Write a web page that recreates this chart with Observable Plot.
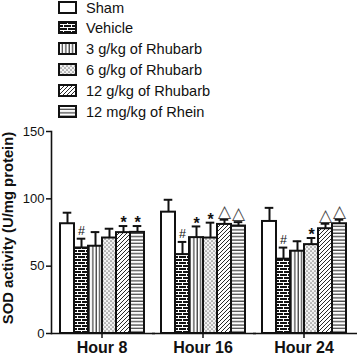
<!DOCTYPE html>
<html>
<head>
<meta charset="utf-8">
<script src="https://cdn.jsdelivr.net/npm/d3@7"></script>
<script src="https://cdn.jsdelivr.net/npm/@observablehq/plot@0.6"></script>
<style>
  html, body { margin: 0; padding: 0; background: white; }
  body { width: 358px; height: 353px; overflow: hidden; font-family: "Liberation Sans", Arial, sans-serif; }
  #legend { position: relative; height: 120px; }
  .row { position: absolute; left: 58px; height: 20px; display: flex; align-items: center; font-size: 14.6px; color: #111; }
  .row svg { margin-right: 8px; }
  #chart svg { overflow: visible; display: block; }
</style>
</head>
<body>
<svg width="0" height="0" style="position:absolute">
  <defs>
    <pattern id="p-sham" width="4" height="4" patternUnits="userSpaceOnUse">
      <rect width="4" height="4" fill="white"/>
    </pattern>
    <pattern id="p-brick" width="8" height="6" patternUnits="userSpaceOnUse">
      <rect width="8" height="6" fill="#111"/>
      <path d="M0 0.5H8M0 3.5H8M1.5 0.5V3.5M5.5 3.5V6.5" stroke="white" stroke-width="1"/>
    </pattern>
    <pattern id="p-vert" width="3.4" height="4" patternUnits="userSpaceOnUse">
      <rect width="3.4" height="4" fill="white"/>
      <path d="M1 0V4" stroke="#111" stroke-width="1"/>
    </pattern>
    <pattern id="p-dots" width="4" height="4" patternUnits="userSpaceOnUse">
      <rect width="4" height="4" fill="#d8d8d8"/>
      <circle cx="1" cy="1" r="0.9" fill="white"/>
      <circle cx="3" cy="3" r="0.9" fill="white"/>
      <circle cx="3" cy="1" r="0.5" fill="#333"/>
      <circle cx="1" cy="3" r="0.5" fill="#333"/>
    </pattern>
    <pattern id="p-diag" width="4" height="4" patternUnits="userSpaceOnUse">
      <rect width="4" height="4" fill="white"/>
      <path d="M-1 1L1 -1M0 4L4 0M3 5L5 3" stroke="#111" stroke-width="0.9"/>
    </pattern>
    <pattern id="p-horz" width="4" height="3.4" patternUnits="userSpaceOnUse">
      <rect width="4" height="3.4" fill="white"/>
      <path d="M0 1H4" stroke="#111" stroke-width="1"/>
    </pattern>
  </defs>
</svg>
<div id="legend"></div>
<div id="chart"></div>
<script>
const hours = ["Hour 8", "Hour 16", "Hour 24"];
const treatments = ["Sham", "Vehicle", "3 g/kg of Rhubarb", "6 g/kg of Rhubarb", "12 g/kg of Rhubarb", "12 mg/kg of Rhein"];
const patterns = ["url(#p-sham)", "url(#p-brick)", "url(#p-vert)", "url(#p-dots)", "url(#p-diag)", "url(#p-horz)"];

// means per treatment, for Hour 8, Hour 16, Hour 24
const shamMean    = [81.5, 90.1, 83.2];
const vehicleMean = [63.5, 58.6, 55.2];
const rhu3Mean    = [64.8, 71.2, 61.1];
const rhu6Mean    = [70.9, 70.9, 66.0];
const rhu12Mean   = [74.9, 81.0, 77.8];
const rheinMean   = [75.1, 79.8, 81.5];

// SEM (upper error bars)
const shamSem    = [8.2, 9.2, 10.1];
const vehicleSem = [6.9, 9.4, 8.6];
const rhu3Sem    = [10.5, 8.3, 7.4];
const rhu6Sem    = [6.9, 11.4, 4.9];
const rhu12Sem   = [4.9, 3.5, 3.7];
const rheinSem   = [4.7, 2.9, 3.0];

// significance marks
const shamSig    = ["", "", ""];
const vehicleSig = ["#", "#", "#"];
const rhu3Sig    = ["", "*", ""];
const rhu6Sig    = ["", "*", "*"];
const rhu12Sig   = ["*", "△", "△"];
const rheinSig   = ["*", "△", "△"];

const yTicks = [0, 50, 100, 150];
const yLabel = "SOD activity (U/mg protein)";

const means = [shamMean, vehicleMean, rhu3Mean, rhu6Mean, rhu12Mean, rheinMean];
const sems = [shamSem, vehicleSem, rhu3Sem, rhu6Sem, rhu12Sem, rheinSem];
const sigs = [shamSig, vehicleSig, rhu3Sig, rhu6Sig, rhu12Sig, rheinSig];

const data = hours.flatMap((h, i) => treatments.map((t, j) => ({
  hour: h, treatment: t, mean: means[j][i], top: means[j][i] + sems[j][i], sig: sigs[j][i]
})));

// legend
const legend = document.getElementById("legend");
treatments.forEach((t, j) => {
  const row = document.createElement("div");
  row.className = "row";
  row.style.top = (-2.5 + j * 20.8) + "px";
  row.innerHTML = `<svg width="20" height="14"><rect x="1" y="1" width="17" height="11" fill="${patterns[j]}" stroke="#111" stroke-width="2"/></svg><span>${t}</span>`;
  legend.appendChild(row);
});

const fxOpt = {fx: "hour", x: "treatment"};
const chart = Plot.plot({
  width: 358,
  height: 233,
  marginTop: 11,
  marginBottom: 20,
  marginLeft: 51,
  marginRight: 4,
  style: {fontFamily: "'Liberation Sans', Arial, sans-serif", fontSize: "13px", color: "#111", background: "white", overflow: "visible"},
  fx: {domain: hours, padding: 0, label: null},
  x: {domain: treatments, paddingInner: 0, paddingOuter: 0.5, axis: null},
  y: {domain: [0, 150], axis: null},
  color: {domain: treatments, range: patterns},
  marks: [
    Plot.barY(data, {...fxOpt, y: "mean", fill: "treatment", stroke: "#111", strokeWidth: 2}),
    Plot.ruleX(data, {...fxOpt, y1: "mean", y2: "top", stroke: "#111", strokeWidth: 2}),
    Plot.tickY(data, {...fxOpt, y: "top", stroke: "#111", strokeWidth: 2, insetLeft: 2.7, insetRight: 2.7}),
    Plot.text(data.filter(d => d.sig === "#"), {...fxOpt, y: "top", text: "sig", lineAnchor: "middle", dy: -7.5, fontSize: 12.5, fill: "#111"}),
    Plot.text(data.filter(d => d.sig === "*"), {...fxOpt, y: "top", text: "sig", lineAnchor: "middle", dy: -3, fontSize: 16, fontWeight: "bold", fill: "#111"}),
    Plot.text(data.filter(d => d.sig === "△"), {...fxOpt, y: "top", text: "sig", lineAnchor: "middle", dy: -8.5, fontSize: 17, fontFamily: "DejaVu Sans", fill: "#444"}),
    Plot.ruleY([0], {stroke: "#111", strokeWidth: 1.6, insetRight: -3}),
    Plot.frame({anchor: "left", facetAnchor: "left", stroke: "#111", strokeWidth: 1.6}),
    Plot.axisY({ticks: yTicks, tickSize: 5, tickPadding: 2, label: null, strokeWidth: 1.5, fontSize: 13, facetAnchor: "left"}),
    Plot.axisFx({anchor: "bottom", tickSize: 5, tickPadding: 3, label: null, fontSize: 16, fontWeight: "bold", strokeWidth: 1.5})
  ]
});
document.getElementById("chart").appendChild(chart);

// y-axis title
d3.select(chart).append("text")
  .attr("transform", "translate(12.5,108) rotate(-90)")
  .attr("text-anchor", "middle")
  .attr("font-size", 14.8)
  .attr("font-weight", "bold")
  .attr("fill", "#111")
  .text(yLabel);
</script>
</body>
</html>
